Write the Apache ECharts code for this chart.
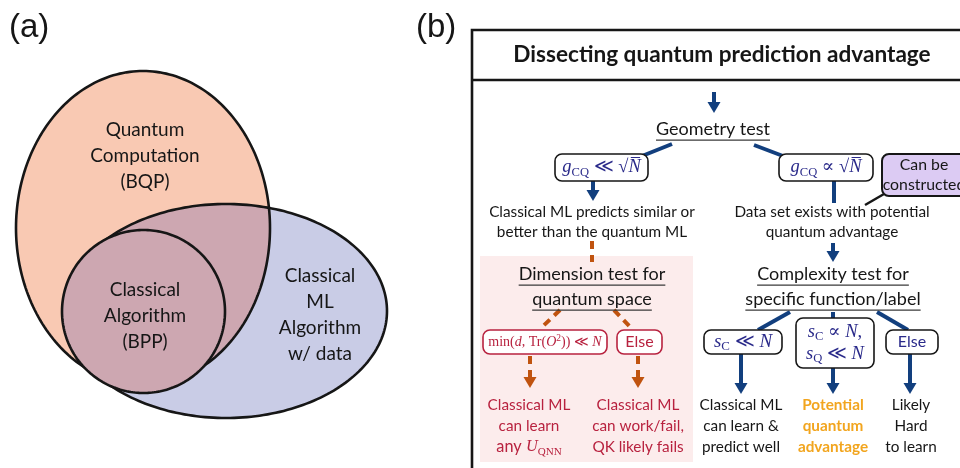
<!DOCTYPE html>
<html>
<head>
<meta charset="utf-8">
<script src="https://cdn.jsdelivr.net/npm/echarts@6/dist/echarts.min.js"></script>
<style>
  html, body { margin: 0; background: #fff; }
  #chart { width: 960px; height: 468px; }
</style>
</head>
<body>
<div id="chart"></div>
<script>
// ---------- data (labels) ----------
const panelLabels = ['(a)', '(b)']
const vennLabels = [
  ['Quantum', 'Computation', '(BQP)'],
  ['Classical', 'ML', 'Algorithm', 'w/ data'],
  ['Classical', 'Algorithm', '(BPP)']
]
const titleText = 'Dissecting quantum prediction advantage'
const testLabels = [
  ['Geometry test'],
  ['Dimension test for', 'quantum space'],
  ['Complexity test for', 'specific function/label']
]
const geometryOutcomes = [
  ['Classical ML predicts similar or', 'better than the quantum ML'],
  ['Data set exists with potential', 'quantum advantage']
]
const noteLabel = ['Can be', 'constructed']
// math conditions written as rich text
const conditionLabels = [
  '{i|g}{s|CQ}{r| ≪ √}{i|N\u0305}',
  '{i|g}{s|CQ}{r| ∝ √}{i|N\u0305}',
  '{r|min(}{i|d}{r|, Tr(}{i|O}{p|2}{r|)) ≪ }{i|N}',
  '{t|Else}',
  '{i|s}{s|C}{r| ≪ }{i|N}',
  '{i|s}{s|C}{r| ∝ }{i|N}{r|,}\n{i|s}{s|Q}{r| ≪ }{i|N}',
  '{t|Else}'
]
const dimensionResults = [
  ['Classical ML', 'can learn', '{t|any }{i|U}{s|QNN}'],
  ['Classical ML', 'can work/fail,', 'QK likely fails']
]
const complexityResults = [
  ['Classical ML', 'can learn &', 'predict well'],
  ['Potential', 'quantum', 'advantage'],
  ['Likely', 'Hard', 'to learn']
]

// ---------- layout & style ----------
const SANS = 'Lato, "Noto Sans", sans-serif'
const SERIF = '"Liberation Serif", "DejaVu Serif", serif'
const BLUE = '#123f7e'
const MATH = '#2a2a8a'
const RED = '#b8223f'
const ORANGE = '#c0530f'
const GOLD = '#f2a51e'
const INK = '#161616'
const BODY = 15.3

const vennShapes = [
  { cx: 143, cy: 228, rx: 127, ry: 157 },
  { cx: 226, cy: 311, rx: 161, ry: 107 },
  { cx: 143.5, cy: 311.5, rx: 81.5, ry: 81.5 }
]
const vennFill = ['#f9c9b3', '#c9cce6', '#cda7b1']
const vennTextPos = [[145, 130], [320, 276], [145, 290]]

const condBoxes = [
  { x: 555, y: 154, w: 93, h: 27, c: MATH, s: INK, f: 18.5 },
  { x: 779, y: 154, w: 94, h: 27, c: MATH, s: INK, f: 18.5 },
  { x: 483, y: 330, w: 124, h: 24, c: RED, s: RED, f: 14 },
  { x: 617, y: 330, w: 45, h: 24, c: RED, s: RED, f: 16 },
  { x: 704, y: 330, w: 78, h: 24, c: MATH, s: INK, f: 19 },
  { x: 796, y: 318, w: 78, h: 50, c: MATH, s: INK, f: 18.5 },
  { x: 886, y: 330, w: 52, h: 24, c: MATH, s: INK, f: 16 }
]
const blueArrows = [[714, 92, 113], [593, 181, 201], [833, 243, 262], [741, 354, 394], [833, 368, 394], [910, 354, 394]]
const blueLines = [[672, 144, 642, 156], [754, 145, 783, 156], [834, 181, 834, 203], [790, 312, 758, 330], [833, 312, 833, 318], [877, 312, 908, 330]]
const orangeLines = [[592, 241, 592, 262], [560, 310, 540, 329], [614, 310, 632, 329]]
const orangeArrows = [[530, 356, 388], [638, 356, 388]]

const measureCtx = document.createElement('canvas').getContext('2d')
function textWidth(str, font) {
  measureCtx.font = font
  return measureCtx.measureText(str).width
}

function mathRich(color, size) {
  return {
    i: { fontFamily: SERIF, fontStyle: 'italic', fontSize: size, color: color, lineHeight: size + 4 },
    r: { fontFamily: SERIF, fontSize: size, color: color, lineHeight: size + 4 },
    s: { fontFamily: SERIF, fontSize: size * 0.68, color: color, lineHeight: size * 0.72, verticalAlign: 'bottom' },
    p: { fontFamily: SERIF, fontSize: size * 0.68, color: color, lineHeight: size * 0.72, verticalAlign: 'top' },
    t: { fontFamily: SANS, fontSize: size, color: color, lineHeight: size + 4 }
  }
}

function ellipsePts(e, n) {
  const pts = []
  for (let k = 0; k < n; k++) {
    const t = (k / n) * Math.PI * 2
    pts.push([e.cx + e.rx * Math.cos(t), e.cy + e.ry * Math.sin(t)])
  }
  return pts
}
function inside(p, e) {
  const dx = (p[0] - e.cx) / e.rx, dy = (p[1] - e.cy) / e.ry
  return dx * dx + dy * dy <= 1
}

function renderItem(params, api) {
  const P = (x, y) => api.coord([x, y])
  const kids = []
  const text = (str, x, y, opt) => {
    const p = P(x, y)
    kids.push({
      type: 'text',
      style: Object.assign({
        text: str, x: p[0], y: p[1], align: 'center', verticalAlign: 'middle',
        fontFamily: SANS, fontSize: BODY, fill: INK
      }, opt || {})
    })
  }
  const line = (x1, y1, x2, y2, color, width, dash) => {
    const a = P(x1, y1), b = P(x2, y2)
    kids.push({
      type: 'line',
      shape: { x1: a[0], y1: a[1], x2: b[0], y2: b[1] },
      style: { stroke: color, lineWidth: width, lineDash: dash || null }
    })
  }
  const arrow = (x, y1, y2, color, dash) => {
    line(x, y1, x, y2 - 9, color, 4, dash)
    kids.push({
      type: 'polygon',
      shape: { points: [P(x - 6.5, y2 - 11), P(x + 6.5, y2 - 11), P(x, y2)] },
      style: { fill: color }
    })
  }
  // echarts text has no underline, so draw one under the measured width
  const underlined = (str, x, y, size) => {
    text(str, x, y, { fontSize: size })
    const w = textWidth(str, size + 'px ' + SANS)
    line(x - w / 2, y + size * 0.62, x + w / 2, y + size * 0.62, '#3a3a3a', 1.4)
  }
  const poly = (pts, style) => {
    kids.push({ type: 'polygon', shape: { points: pts.map(p => P(p[0], p[1])) }, style: style })
  }

  // ---- panel (a): venn diagram ----
  const outlines = vennShapes.map(e => ellipsePts(e, 240))
  poly(outlines[0], { fill: vennFill[0] })
  poly(outlines[1], { fill: vennFill[1] })
  // overlap of BQP and ML
  const ref = [185, 285]
  const common = outlines[0].filter(p => inside(p, vennShapes[1]))
    .concat(outlines[1].filter(p => inside(p, vennShapes[0])))
    .sort((a, b) => Math.atan2(a[1] - ref[1], a[0] - ref[0]) - Math.atan2(b[1] - ref[1], b[0] - ref[0]))
  poly(common, { fill: vennFill[2] })
  poly(outlines[0], { fill: null, stroke: INK, lineWidth: 2.6 })
  poly(outlines[1], { fill: null, stroke: INK, lineWidth: 2.6 })
  poly(outlines[2], { fill: vennFill[2], stroke: INK, lineWidth: 2.6 })
  vennLabels.forEach((lines, k) => {
    lines.forEach((s, j) => text(s, vennTextPos[k][0], vennTextPos[k][1] + j * 26, { fontSize: 19 }))
  })
  text(panelLabels[0], 9, 28, { align: 'left', fontFamily: '"Liberation Sans", sans-serif', fontSize: 33 })
  text(panelLabels[1], 416, 28, { align: 'left', fontFamily: '"Liberation Sans", sans-serif', fontSize: 33 })

  // ---- panel (b): flow chart ----
  const tl = P(472, 30), br = P(980, 490)
  kids.push({ type: 'rect', shape: { x: tl[0], y: tl[1], width: br[0] - tl[0], height: br[1] - tl[1] }, style: { fill: '#fff', stroke: INK, lineWidth: 2.6 } })
  line(472, 80, 980, 80, INK, 2.6)
  text(titleText, 722, 55, { fontSize: 22.6, fontWeight: 'bold' })

  // pink region
  const pa = P(480, 256), pb = P(693, 462)
  kids.push({ type: 'rect', shape: { x: pa[0], y: pa[1], width: pb[0] - pa[0], height: pb[1] - pa[1] }, style: { fill: '#fcecec' } })

  blueLines.forEach(l => line(l[0], l[1], l[2], l[3], BLUE, 4))
  blueArrows.forEach(a => arrow(a[0], a[1], a[2], BLUE))
  orangeLines.forEach(l => line(l[0], l[1], l[2], l[3], ORANGE, 4, [8, 6]))
  orangeArrows.forEach(a => arrow(a[0], a[1], a[2], ORANGE, [8, 6]))
  line(884, 194, 865, 205, INK, 2.5)

  // note box
  const na = P(882, 154)
  kids.push({ type: 'rect', shape: { x: na[0], y: na[1], width: 90, height: 42, r: 7 }, style: { fill: '#dccbf3', stroke: INK, lineWidth: 2 } })
  text(noteLabel[0], 924, 165, { fontSize: 15.8 })
  text(noteLabel[1], 924, 185, { fontSize: 15.8 })

  // condition boxes
  condBoxes.forEach((b, k) => {
    const a = P(b.x, b.y)
    kids.push({ type: 'rect', shape: { x: a[0], y: a[1], width: b.w, height: b.h, r: 7 }, style: { fill: '#fff', stroke: b.s, lineWidth: 1.6 } })
    text(conditionLabels[k], b.x + b.w / 2, b.y + b.h / 2, { rich: mathRich(b.c, b.f), fill: b.c })
  })

  underlined(testLabels[0][0], 713, 129, 18)
  testLabels[1].forEach((s, j) => underlined(s, 592, 274 + j * 25, 18))
  testLabels[2].forEach((s, j) => underlined(s, 833, 274 + j * 25, 18))

  geometryOutcomes[0].forEach((s, j) => text(s, 592, 212 + j * 20))
  geometryOutcomes[1].forEach((s, j) => text(s, 832, 212 + j * 20))

  const dimX = [529, 638]
  dimensionResults.forEach((lines, k) => {
    lines.forEach((s, j) => {
      const opt = { fill: RED }
      if (s.indexOf('{') === 0) opt.rich = mathRich(RED, BODY + 1)
      text(s, dimX[k], 405 + j * 21, opt)
    })
  })
  const cxX = [741, 833, 911]
  complexityResults.forEach((lines, k) => {
    lines.forEach((s, j) => {
      const opt = k === 1 ? { fill: GOLD, fontWeight: 'bold' } : {}
      text(s, cxX[k], 405 + j * 21, opt)
    })
  })

  return { type: 'group', children: kids }
}

const chart = echarts.init(document.getElementById('chart'), null, { renderer: 'canvas' })
chart.setOption({
  animation: false,
  grid: { left: 0, right: 0, top: 0, bottom: 0 },
  xAxis: { type: 'value', min: 0, max: 960, show: false },
  yAxis: { type: 'value', min: 0, max: 468, inverse: true, show: false },
  series: [{
    type: 'custom',
    clip: false,
    data: [[0, 0]],
    renderItem: renderItem
  }]
})
</script>
</body>
</html>
